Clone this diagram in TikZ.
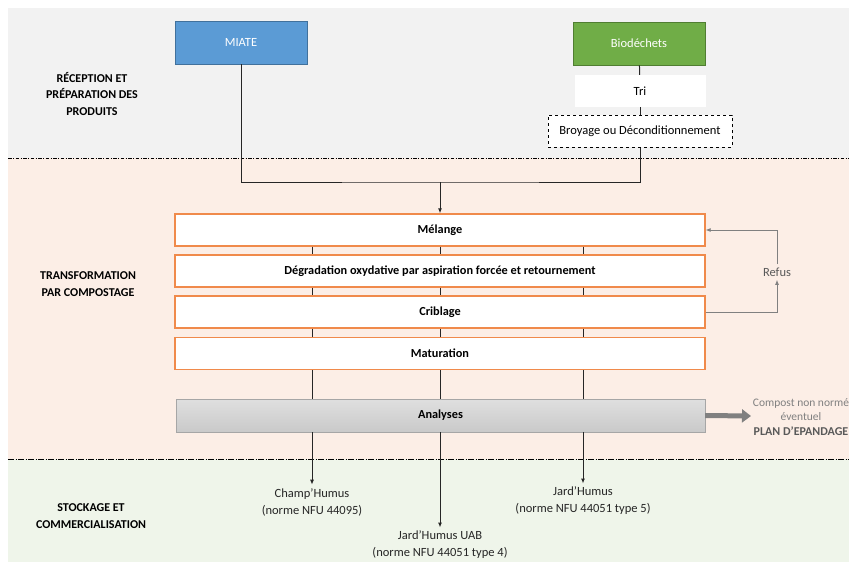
\documentclass[tikz,border=0pt]{standalone}
\usepackage{fontspec}
\setmainfont{Carlito}
\usetikzlibrary{positioning, arrows.meta}

\definecolor{fondgris}{HTML}{F2F2F2}
\definecolor{fondpeche}{HTML}{FCEEE6}
\definecolor{fondvert}{HTML}{EFF5EA}
\definecolor{bleumiate}{HTML}{5B9BD5}
\definecolor{bleubord}{HTML}{41719C}
\definecolor{vertbio}{HTML}{70AD47}
\definecolor{vertbord}{HTML}{507E32}
\definecolor{orangebord}{HTML}{F08A4B}
\definecolor{grisfonce}{HTML}{595959}
\definecolor{grisclair}{HTML}{808080}
\definecolor{trait}{HTML}{262626}

\begin{document}
\begin{tikzpicture}[x=1pt, y=-1pt, font=\fontsize{12.5}{15}\selectfont,
	source/.style={draw, line width=0.8pt, minimum width=132pt, minimum height=43pt, inner sep=0pt, text=white},
	etape/.style={draw=orangebord, line width=1.3pt, fill=white, minimum width=530pt, minimum height=32pt, inner sep=0pt, font=\fontsize{12.3}{15}\selectfont\bfseries},
	phase/.style={align=center, font=\fontsize{12}{16.5}\selectfont\bfseries},
	produit/.style={align=center, text=trait, font=\fontsize{12.5}{17}\selectfont},
	fleche/.style={-{Latex[length=5pt,width=4pt]}},
	separation/.style={line width=1pt, dash pattern=on 3.5pt off 1.5pt on 1pt off 1.5pt}]

	\useasboundingbox (0,0) rectangle (849,562);
	% bandes de fond
	\fill[fondgris] (8,8) rectangle (849,158);
	\fill[fondpeche] (8,158) rectangle (849,459);
	\fill[fondvert] (8,459) rectangle (849,562);
	\draw[separation] (8,158) -- (849,158);
	\draw[separation, dash pattern=on 6pt off 1.5pt on 1pt off 1.5pt, line width=0.7pt] (8,459) -- (849,459);

	\node[phase] (reception) at (92,94) {RÉCEPTION ET\\PRÉPARATION DES\\PRODUITS};
	\node[phase] (transfo) at (88,284) {TRANSFORMATION\\PAR COMPOSTAGE};
	\node[phase] (stockage) at (91,516) {STOCKAGE ET\\COMMERCIALISATION};

	% entrees
	\node[source, fill=bleumiate, draw=bleubord] (miate) at (241,42.5) {MIATE};
	\node[source, fill=vertbio, draw=vertbord] (bio) at (639,43.5) {Biodéchets};
	\node[fill=white, minimum width=131pt, minimum height=32pt, inner sep=0pt] (tri) at (640,91) {Tri};
	\node[draw, dashed, line width=1pt, fill=white, minimum width=184pt, minimum height=32pt, inner sep=0pt] (broyage) at (640,131) {Broyage ou Déconditionnement};
	\coordinate (jonction) at (440,182);

	\draw[trait, line width=1pt] (bio) -- (tri);
	\draw[trait, line width=1pt] (tri) -- (broyage);
	\draw[trait, line width=1pt] (miate.south) |- (jonction) -| (broyage.south);

	% etapes du compostage
	\node[etape] (melange) at (440,230) {Mélange};
	\node[etape] (degrad) at (440,271) {Dégradation oxydative par aspiration forcée et retournement};
	\node[etape] (crible) at (440,312) {Criblage};
	\node[etape] (matur) at (440,353.5) {Maturation};
	\node[draw=gray!70, top color=gray!25, bottom color=gray!42, minimum width=529pt, minimum height=33pt, inner sep=0pt, font=\fontsize{12.3}{15}\selectfont\bfseries] (analyses) at (440.5,415.5) {Analyses};

	\draw[fleche, trait, line width=1pt] (jonction) -- (melange.north);

	\coordinate (c1) at (312,0);
	\coordinate (c2) at (440,0);
	\coordinate (c3) at (583,0);
	\foreach \a/\b in {melange/degrad, degrad/crible, crible/matur, matur/analyses}
		\foreach \c in {c1,c2,c3}
			\draw[trait, line width=1pt] (\a.south -| \c) -- (\b.north -| \c);

	% refus
	\node[text=grisfonce] (refus) at (777,272) {Refus};
	\draw[fleche, grisclair, line width=0.8pt] (crible.east) -| (refus.south);
	\draw[fleche, grisclair, line width=0.8pt] (refus.north) |- (melange.east);

	% compost non norme
	\node[align=center, text=grisclair, font=\fontsize{11.5}{14.5}\selectfont] (epandage) at (801,417) {Compost non normé\\éventuel\\\textcolor{grisfonce}{\fontsize{12}{14.5}\selectfont\bfseries PLAN D'EPANDAGE}};
	\coordinate (finfleche) at (751,416);
	\draw[-{Triangle[length=9pt,width=13pt]}, grisclair, line width=5pt] (analyses.east) -- (finfleche);

	% produits
	\node[produit] (champ) at (312,502) {Champ'Humus\\(norme NFU 44095)};
	\node[produit] (jarduab) at (440,545) {Jard'Humus UAB\\(norme NFU 44051 type 4)};
	\node[produit] (jard) at (583,501) {Jard'Humus\\(norme NFU 44051 type 5)};
	\draw[fleche, trait, line width=1pt] (analyses.south -| c1) -- (champ.north);
	\draw[fleche, trait, line width=1pt] (analyses.south -| c2) -- (jarduab.north);
	\draw[fleche, trait, line width=1pt] (analyses.south -| c3) -- (jard.north);
\end{tikzpicture}
\end{document}
